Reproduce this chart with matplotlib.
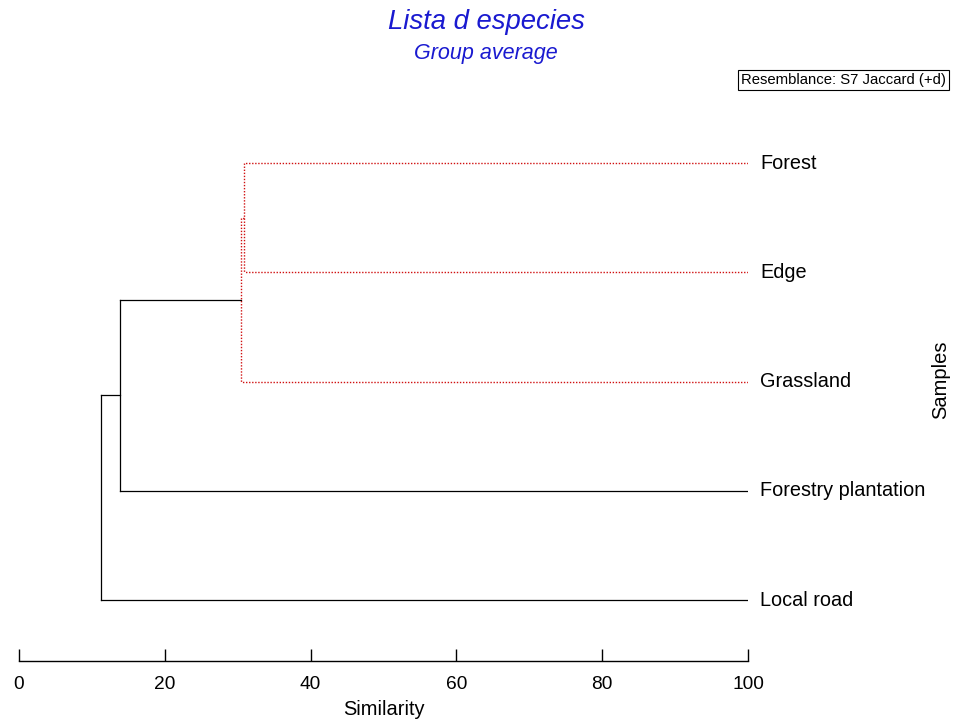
import numpy as np
import matplotlib.pyplot as plt

plt.rcParams['font.family'] = ['Liberation Sans', 'DejaVu Sans']

# leaves, bottom to top
samples = ['Local road', 'Forestry plantation', 'Grassland', 'Edge', 'Forest']
# merges: child a, child b, similarity level (new node ids start at len(samples))
merge_a = [4, 5, 6, 7]
merge_b = [3, 2, 1, 0]
merge_sim = [30.9, 30.45, 13.85, 11.2]
merge_grouped = [True, True, False, False]  # dotted red = no significant structure
xticks = [0, 20, 40, 60, 80, 100]

fig = plt.figure(figsize=(9.56, 7.22), dpi=100)
W, H = 956, 722
# axes: x 0..100 -> px 19..748, bottom spine at px 661
left, right, bottom, top = 19, 748, 661, 120
ax = fig.add_axes([left / W, 1 - bottom / H, (right - left) / W, (bottom - top) / H])

n = len(samples)
node_x = {i: 100.0 for i in range(n)}
node_y = {i: float(i) for i in range(n)}
for k, (a, b, s) in enumerate(zip(merge_a, merge_b, merge_sim)):
    nid = n + k
    node_x[nid] = s
    node_y[nid] = (node_y[a] + node_y[b]) / 2
    if merge_grouped[k]:
        kw = dict(color='#d01010', ls=(0, (1, 1.2)), lw=1.0)
    else:
        kw = dict(color='black', ls='-', lw=0.9)
    for c in (a, b):
        ax.plot([node_x[c], s], [node_y[c], node_y[c]], **kw)
    ax.plot([s, s], [node_y[a], node_y[b]], **kw)

for i, name in enumerate(samples):
    ax.text(101.7, i, name, fontsize=14.3, va='center', ha='left')

unit = (600 - 163) / 4
ax.set_xlim(0, 100)
ax.set_ylim(-(bottom - 600) / unit, 4 + (163 - top) / unit)
for s in ['top', 'right', 'left']:
    ax.spines[s].set_visible(False)
ax.spines['bottom'].set_linewidth(1.0)
ax.set_yticks([])
ax.set_xticks(xticks)
ax.tick_params(axis='x', direction='in', length=9, width=1.0, pad=11, labelsize=13.8)
ax.set_xlabel('Similarity', fontsize=14.4, labelpad=5)

fig.text(486 / W, 1 - 22 / H, 'Lista d especies', color='#1a1ad0', fontsize=19.8,
         style='italic', ha='center', va='center')
fig.text(486 / W, 1 - 53 / H, 'Group average', color='#1a1ad0', fontsize=15.5,
         style='italic', ha='center', va='center')
fig.text(741 / W, 1 - 80 / H, 'Resemblance: S7 Jaccard (+d)', fontsize=10.7,
         ha='left', va='center',
         bbox=dict(boxstyle='square,pad=0.2', fc='white', ec='black', lw=0.8))
fig.text(941 / W, 1 - 380 / H, 'Samples', fontsize=14.5, rotation=90,
         ha='center', va='center')

fig.savefig('out.png', dpi=100, facecolor='white')
